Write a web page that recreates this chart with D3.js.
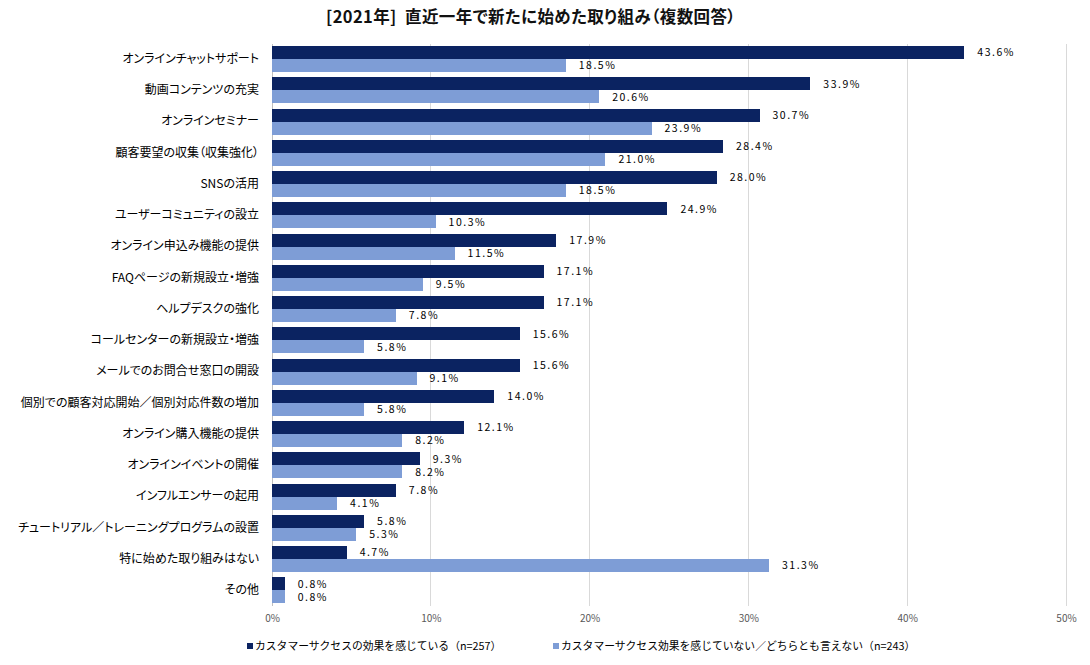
<!DOCTYPE html>
<html><head><meta charset="utf-8">
<script src="https://cdn.jsdelivr.net/npm/d3@7"></script>
<style>body{margin:0;background:#fff;} text{font-family:"Noto Sans CJK JP","Noto Sans",sans-serif;} .palt{font-feature-settings:"palt";}</style>
</head><body>
<svg id="c" width="1090" height="665"></svg>
<script>
const categories = ["オンラインチャットサポート","動画コンテンツの充実","オンラインセミナー","顧客要望の収集（収集強化）","SNSの活用","ユーザーコミュニティの設立","オンライン申込み機能の提供","FAQページの新規設立・増強","ヘルプデスクの強化","コールセンターの新規設立・増強","メールでのお問合せ窓口の開設","個別での顧客対応開始／個別対応件数の増加","オンライン購入機能の提供","オンラインイベントの開催","インフルエンサーの起用","チュートリアル／トレーニングプログラムの設置","特に始めた取り組みはない","その他"];
const seriesA = [43.6,33.9,30.7,28.4,28.0,24.9,17.9,17.1,17.1,15.6,15.6,14.0,12.1,9.3,7.8,5.8,4.7,0.8];
const seriesB = [18.5,20.6,23.9,21.0,18.5,10.3,11.5,9.5,7.8,5.8,9.1,5.8,8.2,8.2,4.1,5.3,31.3,0.8];
const seriesNames = ["カスタマーサクセスの効果を感じている（n=257）","カスタマーサクセス効果を感じていない／どちらとも言えない（n=243）"];
const ticks = [0,10,20,30,40,50];
const title = "[2021年]  直近一年で新たに始めた取り組み（複数回答）";
const colors = ["#0b2361","#7e9dd6"];

const svg = d3.select("#c");
const L=272,R=1066,T=43.5,B=606;
const x = d3.scaleLinear().domain([0,50]).range([L,R]);
const y = d3.scaleBand().domain(categories).range([T,B]).paddingInner(0.17).paddingOuter(0.085);
const sub = d3.scaleBand().domain([0,1]).range([0,y.bandwidth()]);

svg.append("text").attr("class","palt").attr("x",531).attr("y",23).attr("text-anchor","middle")
  .attr("font-size",16.5).attr("font-weight","bold").attr("letter-spacing","0.4px").attr("fill","#111").style("white-space","pre").text(title);

// grid
svg.append("g").selectAll("line").data(ticks).join("line")
  .attr("x1",d=>x(d)).attr("x2",d=>x(d)).attr("y1",T).attr("y2",B)
  .attr("stroke",d=>d===0?"#bfbfbf":"#d9d9d9").attr("stroke-width",1).attr("shape-rendering","crispEdges");

// tick labels
const ax = svg.append("g").attr("transform",`translate(0,${B})`)
  .call(d3.axisBottom(x).tickValues(ticks).tickFormat(d=>d+"%").tickSize(0).tickPadding(9));
ax.select(".domain").remove();
ax.selectAll("text").attr("font-size",10).attr("fill","#595959").attr("font-family","Noto Sans CJK JP");

// category labels
const ay = svg.append("g").attr("transform",`translate(${L},0)`)
  .call(d3.axisLeft(y).tickSize(0).tickPadding(13));
ay.select(".domain").remove();
ay.selectAll("text").attr("class","palt").attr("font-size",12).attr("fill","#000").attr("font-family","Noto Sans CJK JP");

const series=[seriesA,seriesB];
series.forEach((s,i)=>{
  const g = svg.append("g");
  g.selectAll("text").data(s).join("text")
    .attr("x",d=>x(d)+13).attr("y",(d,j)=>y(categories[j])+sub(i)+sub.bandwidth()/2)
    .attr("dy","0.36em").attr("font-size",10.5).attr("letter-spacing","1.5px").attr("fill","#000")
    .attr("font-family","DejaVu Sans")
    .text(d=>d.toFixed(1)+"%");
  g.selectAll("rect").data(s).join("rect")
    .attr("x",x(0)).attr("y",(d,j)=>y(categories[j])+sub(i))
    .attr("width",d=>x(d)-x(0)).attr("height",sub.bandwidth())
    .attr("fill",colors[i]).attr("shape-rendering","crispEdges");
});

// legend
const lx=[247,553];
seriesNames.forEach((n,i)=>{
  svg.append("rect").attr("x",lx[i]).attr("y",643).attr("width",6).attr("height",6).attr("fill",colors[i]);
  svg.append("text").attr("x",lx[i]+8).attr("y",646).attr("dy","0.36em").attr("font-size",10.8).attr("fill","#000").text(n);
});
</script>
</body></html>
